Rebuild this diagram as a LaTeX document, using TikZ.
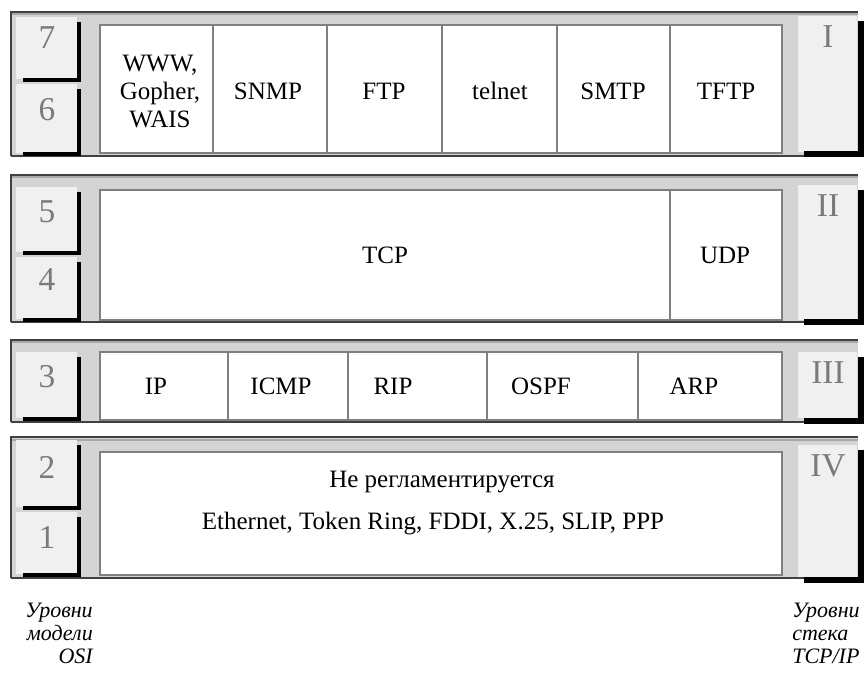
\documentclass[tikz,border=0pt]{standalone}
\usepackage{fontspec}
\setmainfont{Liberation Serif}
\definecolor{panelgray}{HTML}{D4D4D4}
\definecolor{keyface}{HTML}{F0F0F0}
\definecolor{rimdark}{HTML}{404040}
\definecolor{rimmid}{HTML}{A8A8A8}
\definecolor{cellrule}{HTML}{808080}
\definecolor{numgray}{HTML}{7A7A7A}
\tikzset{
  panel/.style={fill=panelgray},
  keybox/.style={fill=keyface},
  keyshadow/.style={draw=black, line width=3.5pt},
  cellframe/.style={draw=cellrule, line width=1.5pt, fill=white},
  cellsep/.style={draw=cellrule, line width=1.5pt},
  celltext/.style={font=\fontsize{18.75}{21}\selectfont, anchor=base, inner sep=0pt},
  osinum/.style={font=\fontsize{25}{28}\selectfont, text=numgray, inner sep=0pt},
  tcpnum/.style={font=\fontsize{25}{28}\selectfont, text=numgray, inner sep=0pt, anchor=north},
  caption/.style={font=\itshape\fontsize{16.5}{18}\selectfont, inner sep=0pt},
}
% one grey band: top y, bottom y
\newcommand{\bandpanel}[2]{%
  \fill[panel] (11,#1) rectangle (858,#2);
  \draw[draw=rimmid, line width=1.5pt] (12,#1+2.5) -- (858,#1+2.5);
  \draw[draw=rimdark, line width=1.5pt] (11,#2) -- (11,#1) -- (858,#1);
  \draw[draw=rimdark, line width=1.2pt] (11,#2) -- (805,#2);
}
% raised key on the left: name, top, bottom, label, label centre y
\newcommand{\osikey}[5]{%
  \fill[keybox] (16,#2) rectangle (77,#3);
  \draw[keyshadow] (79,#2+5) -- (79,#3+1) -- (23,#3+1);
  \node[osinum] (#1) at (47,#5) {#4};
}
% raised key on the right: name, top, bottom, label
\newcommand{\tcpkey}[4]{%
  \fill[keybox] (798,#2) rectangle (857,#3);
  \draw[keyshadow, line width=4.5pt] (861,#2+5) -- (861,#3+2.5) -- (804,#3+2.5);
  \node[tcpnum] (#1) at (828,#2+9) {#4};
}
\begin{document}
\begin{tikzpicture}[x=0.75pt,y=-0.75pt]
\useasboundingbox (0,0) rectangle (867,673);
\fill[white] (0,0) rectangle (867,673);

% ---- application layer band
\bandpanel{12}{156}
\osikey{k7}{17}{79}{7}{38}
\osikey{k6}{84}{153}{6}{110}
\draw[cellframe] (100,25) rectangle (782,153);
\foreach \xs in {213,327,442,557,670} \draw[cellsep] (\xs,25) -- (\xs,153);
\node[celltext] (www) at (160,72) {WWW,};
\node[celltext] (gopher) at (160,100) {Gopher,};
\node[celltext] (wais) at (160,128) {WAIS};
\node[celltext] (snmp) at (268,100) {SNMP};
\node[celltext] (ftp) at (384,100) {FTP};
\node[celltext] (telnet) at (500,100) {telnet};
\node[celltext] (smtp) at (613,100) {SMTP};
\node[celltext] (tftp) at (726,100) {TFTP};
\tcpkey{t1}{16}{152}{I}

% ---- transport band
\bandpanel{175}{322}
\osikey{k5}{187}{252}{5}{212}
\osikey{k4}{257}{319}{4}{280}
\draw[cellframe] (100,190) rectangle (782,320);
\draw[cellsep] (670,190) -- (670,320);
\node[celltext] (tcp) at (385,264) {TCP};
\node[celltext] (udp) at (725,264) {UDP};
\tcpkey{t2}{185}{320}{II}

% ---- network band
\bandpanel{340}{422}
\osikey{k3}{352}{418}{3}{377}
\draw[cellframe] (100,352) rectangle (782,420);
\foreach \xs in {228,348,487,638} \draw[cellsep] (\xs,352) -- (\xs,420);
\node[celltext] (ip) at (156,394) {IP};
\node[celltext] (icmp) at (281,394) {ICMP};
\node[celltext] (rip) at (393,394) {RIP};
\node[celltext] (ospf) at (541,394) {OSPF};
\node[celltext] (arp) at (694,394) {ARP};
\tcpkey{t3}{352}{418}{III}

% ---- link band
\bandpanel{437}{578}
\osikey{k2}{440}{507}{2}{467}
\osikey{k1}{512}{574}{1}{537}
\draw[cellframe] (100,452) rectangle (782,575);
\node[celltext] (noreg) at (442,487) {Не регламентируется};
\node[celltext] (links) at (433,529) {Ethernet, Token Ring, FDDI, X.25, SLIP, PPP};
\tcpkey{t4}{445}{577}{IV}

% ---- captions under the columns
\node[caption, anchor=base east] (osi1) at (93,617) {Уровни};
\node[caption, anchor=base east] (osi2) at (93,640) {модели};
\node[caption, anchor=base east] (osi3) at (93,663) {OSI};
\node[caption, anchor=base west] (tcp1) at (792,617) {Уровни};
\node[caption, anchor=base west] (tcp2) at (792,640) {стека};
\node[caption, anchor=base west] (tcp3) at (792,663) {TCP/IP};
\end{tikzpicture}
\end{document}
